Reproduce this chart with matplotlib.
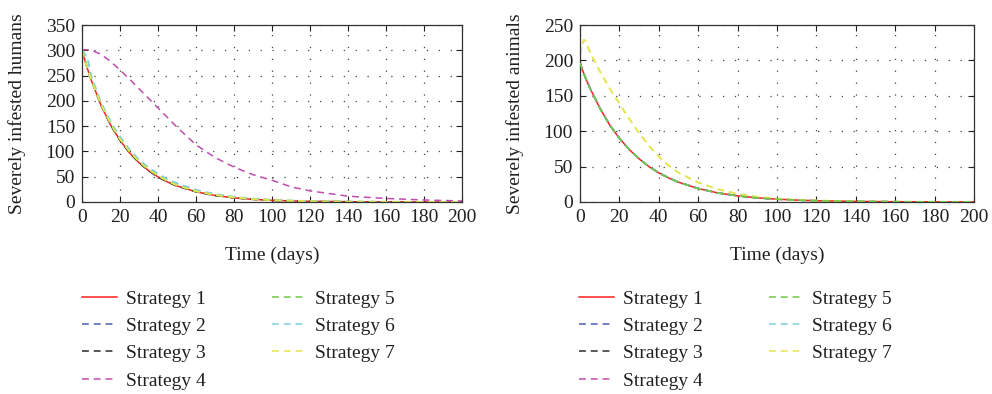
import matplotlib
matplotlib.use("Agg")
from matplotlib import pyplot as plt

# time points (days) shared by every series
days = [0, 1, 2, 3, 5, 10, 15, 20, 25, 30, 35, 40, 45, 50, 60, 70, 80, 90, 100, 110, 120, 140, 160, 180, 200]

# severely infested humans, one list per strategy
humans_s1 = [300, 286.8, 274.2, 262.2, 239.6, 191.3, 152.6, 122.0, 97.4, 77.8, 62.1, 49.6, 39.6, 31.6, 20.2, 12.9, 8.2, 5.2, 3.3, 2.1, 1.4, 0.55, 0.22, 0.09, 0.04]
humans_s2 = [300, 287.0, 274.5, 262.6, 240.0, 191.8, 153.1, 122.5, 97.9, 78.2, 62.5, 50.0, 39.9, 31.9, 20.4, 13.0, 8.3, 5.3, 3.4, 2.2, 1.4, 0.56, 0.22, 0.09, 0.04]
humans_s3 = [300, 286.8, 274.2, 262.2, 239.6, 191.3, 152.6, 122.0, 97.4, 77.8, 62.1, 49.6, 39.6, 31.6, 20.2, 12.9, 8.2, 5.2, 3.3, 2.1, 1.4, 0.55, 0.22, 0.09, 0.04]
humans_s4 = [300, 301, 301, 301, 300, 292, 278, 261, 243, 224, 205, 186, 167, 148, 113, 88, 69, 54, 43, 30, 22, 11.5, 7, 4, 2]
humans_s5 = [300, 287, 275, 263, 241, 194, 156, 126, 101, 81, 65, 53, 42, 34, 22, 14, 9, 6, 3.9, 2.5, 1.6, 0.7, 0.3, 0.1, 0.05]
humans_s6 = [300, 296, 290, 282, 248, 197, 159, 129, 104, 84, 68, 56, 45, 37, 24, 15.7, 10.3, 6.7, 4.4, 2.9, 1.9, 0.8, 0.35, 0.15, 0.06]
humans_s7 = [300, 287, 274, 263, 240, 193, 155, 124, 100, 80, 64, 52, 41, 33, 21, 14, 9, 5.7, 3.7, 2.4, 1.5, 0.6, 0.25, 0.1, 0.04]

# severely infested animals, one list per strategy
animals_s1 = [197, 188.5, 181, 174, 161, 133, 109, 90, 74, 61, 50, 41.2, 34, 28, 19, 12.8, 8.7, 5.9, 4.0, 2.7, 1.8, 0.8, 0.38, 0.17, 0.08]
animals_s2 = [197, 188.6, 181.1, 174.1, 161.1, 133.1, 109.1, 90.1, 74.1, 61.1, 50.1, 41.3, 34.1, 28.1, 19.1, 12.9, 8.7, 5.9, 4.0, 2.7, 1.8, 0.8, 0.38, 0.17, 0.08]
animals_s3 = [197, 188.5, 181, 174, 161, 133, 109, 90, 74, 61, 50, 41.2, 34, 28, 19, 12.8, 8.7, 5.9, 4.0, 2.7, 1.8, 0.8, 0.38, 0.17, 0.08]
animals_s4 = [197, 188.7, 181.2, 174.3, 161.3, 133.3, 109.3, 90.3, 74.3, 61.3, 50.2, 41.4, 34.2, 28.2, 19.2, 12.9, 8.8, 6.0, 4.1, 2.8, 1.9, 0.8, 0.38, 0.17, 0.08]
animals_s5 = [196.5, 188.2, 180.8, 173.9, 161, 133, 109, 90, 74, 61, 50, 41.2, 34, 28, 19, 12.8, 8.7, 5.9, 4.0, 2.7, 1.8, 0.8, 0.38, 0.17, 0.08]
animals_s6 = [197, 188.6, 181.1, 174.2, 161.2, 133.2, 109.2, 90.2, 74.2, 61.2, 50.1, 41.3, 34.1, 28.1, 19.1, 12.9, 8.8, 6.0, 4.0, 2.7, 1.8, 0.8, 0.38, 0.17, 0.08]
animals_s7 = [207, 222, 229, 227, 212, 185, 160.5, 139, 117.5, 97.5, 79.5, 64, 51.5, 41.5, 27.5, 18, 11.5, 7.2, 4.6, 3, 2, 0.8, 0.3, 0.1, 0.05]

labels = ["Strategy 1", "Strategy 2", "Strategy 3", "Strategy 4", "Strategy 5", "Strategy 6", "Strategy 7"]
colours = ["#ff2020", "#4a5fb5", "#2b2b2b", "#c04cb0", "#72c844", "#7dd0dc", "#e4e44c"]
styles = ["-", "--", "--", "--", "--", "--", "--"]
widths = [1.1, 1.1, 1.1, 1.1, 1.2, 1.3, 1.4]

plt.rcParams["font.family"] = ["Liberation Serif", "DejaVu Serif"]
plt.rcParams["font.size"] = 14
plt.rcParams["text.color"] = "#231f20"
plt.rcParams["axes.labelcolor"] = "#231f20"
plt.rcParams["xtick.color"] = "#231f20"
plt.rcParams["ytick.color"] = "#231f20"

fig = plt.figure(figsize=(9.92, 3.94), dpi=100)
ax1 = fig.add_axes([82 / 992, 1 - 202 / 394, 380 / 992, 177 / 394])
ax2 = fig.add_axes([580 / 992, 1 - 202 / 394, 394 / 992, 177 / 394])


def draw_panel(ax, series, ymax, ystep, ylabel, legend_x, raised=None):
    for i, (vals, lab, col, ls, lw) in enumerate(zip(series, labels, colours, styles, widths)):
        z = 3 if i == raised else 2
        line, = ax.plot(days, vals, color=col, linestyle=ls, linewidth=lw, label=lab, zorder=z)
        if ls == "--":
            line.set_dashes((4.5 * 1.1 / lw, 3.2 * 1.1 / lw))
    ax.set_xlim(0, 200)
    ax.set_ylim(0, ymax)
    ax.set_xticks(range(0, 201, 20))
    ax.set_yticks(range(0, ymax + 1, ystep))
    ax.tick_params(direction="in", top=True, right=True, length=4, width=0.8, pad=5)
    ax.grid(True, color="#444444", linestyle=(0, (1, 8.5)), linewidth=0.9)
    for sp in ax.spines.values():
        sp.set_linewidth(0.9)
        sp.set_color("#333333")
    ax.set_xlabel("Time (days)", labelpad=15)
    ax.set_ylabel(ylabel, labelpad=14)
    leg = ax.legend(loc="upper left", bbox_to_anchor=(legend_x, 1 - 290 / 394),
                    bbox_transform=fig.transFigure, ncol=2, frameon=False,
                    borderpad=0, borderaxespad=0, handlelength=1.8,
                    handletextpad=0.45, columnspacing=3.4, labelspacing=0.5)
    for h in leg.get_lines():
        h.set_linewidth(1.1)
        if h.get_linestyle() != "-":
            h.set_dashes((4.5, 3.2))


draw_panel(ax1, [humans_s1, humans_s2, humans_s3, humans_s4, humans_s5, humans_s6, humans_s7],
           350, 50, "Severely infested humans", 82 / 992)
draw_panel(ax2, [animals_s1, animals_s2, animals_s3, animals_s4, animals_s5, animals_s6, animals_s7],
           250, 50, "Severely infested animals", 579 / 992, raised=4)

fig.savefig("out.png", dpi=100)
